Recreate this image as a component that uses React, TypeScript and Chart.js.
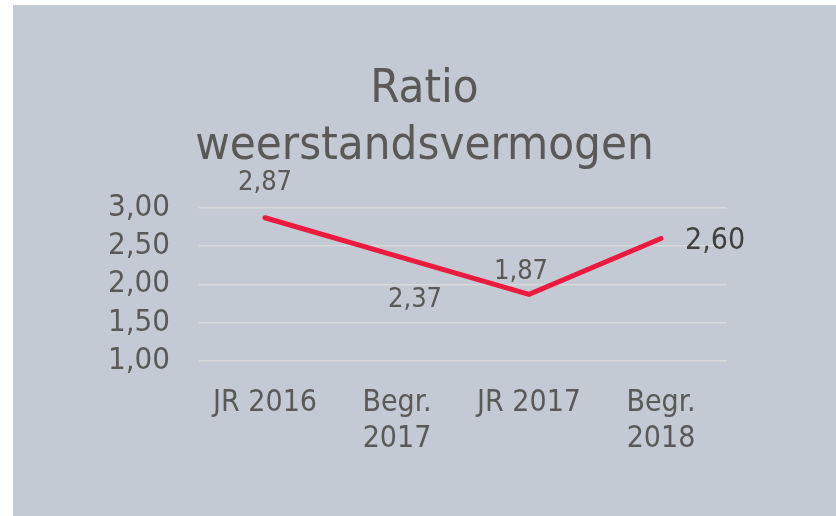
import React, { useEffect, useRef } from "react";
import { Chart, registerables } from "chart.js";

Chart.register(...registerables);

const categories: string[][] = [["JR 2016"], ["Begr.", "2017"], ["JR 2017"], ["Begr.", "2018"]];
const ratioValues: number[] = [2.87, 2.37, 1.87, 2.6];
const titleLines: string[] = ["Ratio", "weerstandsvermogen"];
const yMin = 1;
const yMax = 3;
const yStep = 0.5;

const FONT = "'DejaVu Sans Condensed', 'DejaVu Sans', sans-serif";
const fmt = (v: number) => v.toFixed(2).replace(".", ",");

const labelPlugin = {
  id: "pointLabels",
  afterDatasetsDraw(chart: any) {
    const ctx = chart.ctx;
    const meta = chart.getDatasetMeta(0);
    const layout = [
      { dx: 0, dy: -28, align: "center", size: 27, color: "#595959" },
      { dx: 18, dy: 51, align: "center", size: 27, color: "#595959" },
      { dx: -8, dy: -15, align: "center", size: 27, color: "#595959" },
      { dx: 24, dy: 11, align: "left", size: 30, color: "#404040" },
    ];
    ctx.save();
    ctx.textBaseline = "alphabetic";
    meta.data.forEach((el: any, i: number) => {
      const l = layout[i];
      ctx.font = `${l.size}px ${FONT}`;
      ctx.fillStyle = l.color;
      ctx.textAlign = l.align;
      ctx.fillText(fmt(ratioValues[i]), el.x + l.dx, el.y + l.dy);
    });
    ctx.restore();
  },
};

export default function App() {
  const ref = useRef<HTMLCanvasElement | null>(null);
  useEffect(() => {
    if (!ref.current) return;
    const chart = new Chart(ref.current, {
      type: "line",
      data: {
        labels: categories,
        datasets: [
          {
            data: ratioValues,
            borderColor: "#ec1a3f",
            borderWidth: 5,
            borderCapStyle: "round",
            borderJoinStyle: "miter",
            pointRadius: 0,
            tension: 0,
            fill: false,
            yAxisID: "y",
          },
        ],
      },
      options: {
        responsive: false,
        animation: false,
        layout: { padding: 0 },
        plugins: {
          legend: { display: false },
          tooltip: { enabled: false },
          title: {
            display: true,
            text: titleLines,
            color: "#595959",
            font: { family: FONT, size: 47, weight: "normal", lineHeight: 1.2 },
            padding: { top: 57, bottom: 33 },
          },
        },
        scales: {
          x: {
            offset: true,
            grid: { display: false, drawTicks: false },
            border: { display: false },
            ticks: {
              color: "#595959",
              padding: 24,
              maxRotation: 0,
              autoSkip: false,
              font: { family: FONT, size: 30, lineHeight: 1.2 },
            },
            afterFit: (s: any) => {
              s.height = 155;
            },
          },
          y: {
            min: yMin,
            max: yMax,
            grid: { color: "#d9dadb", lineWidth: 1.5, drawTicks: false },
            border: { display: false },
            ticks: {
              stepSize: yStep,
              autoSkip: false,
              color: "#595959",
              padding: 29,
              font: { family: FONT, size: 31, lineHeight: 1.2 },
              callback: (v: any) => fmt(Number(v)),
            },
            afterFit: (s: any) => {
              s.width = 186;
            },
          },
          yRight: {
            position: "right",
            min: yMin,
            max: yMax,
            grid: { display: false, drawTicks: false },
            border: { display: false },
            ticks: { display: false },
            afterFit: (s: any) => {
              s.width = 109;
            },
          },
        },
      },
      plugins: [labelPlugin],
    } as any);
    return () => chart.destroy();
  }, []);
  return (
    <div style={{ position: "fixed", left: 0, top: 0, width: 836, height: 516, background: "#ffffff" }}>
      <div style={{ position: "absolute", left: 13, top: 5, width: 823, height: 511, background: "#c3cad3" }}>
        <canvas ref={ref} width={823} height={511} style={{ display: "block" }} />
      </div>
    </div>
  );
}
